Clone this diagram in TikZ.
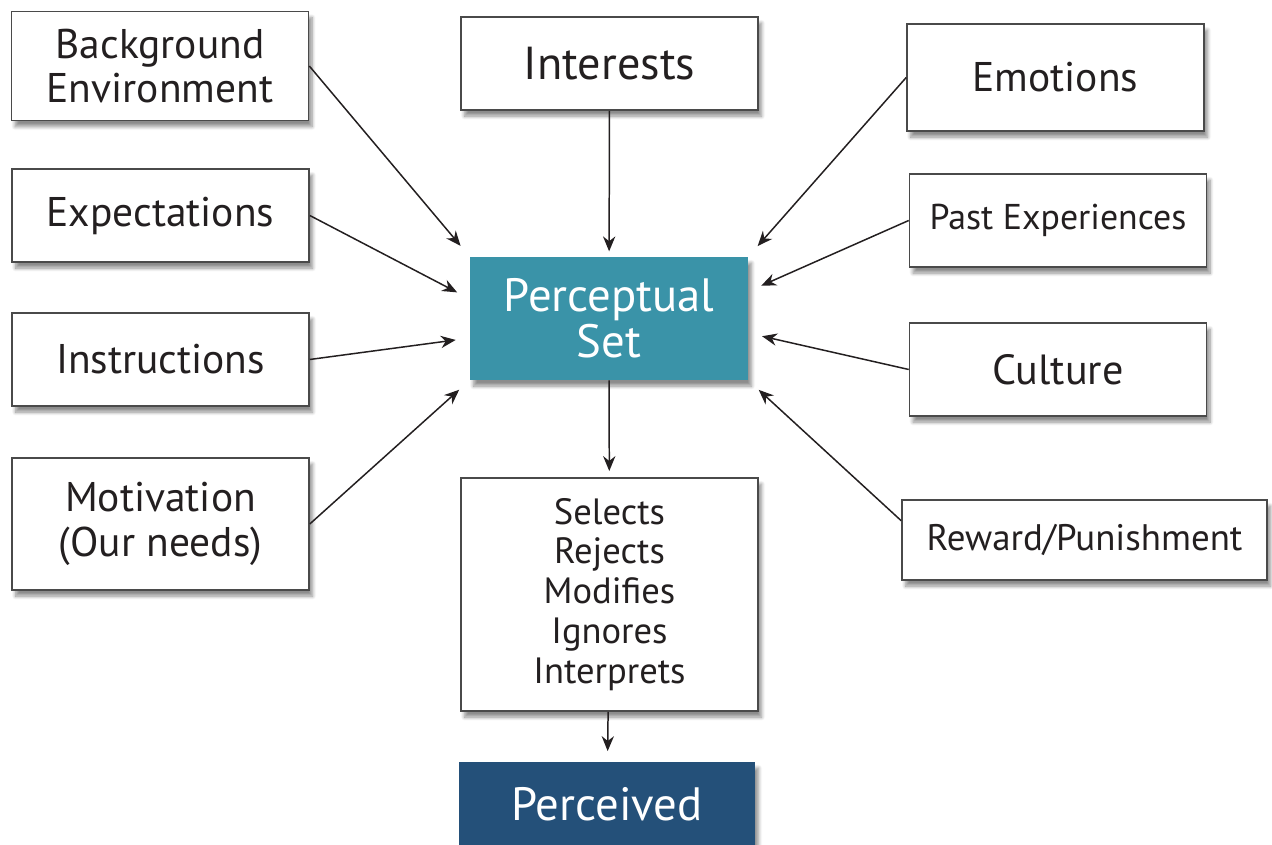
\documentclass[tikz,border=0pt]{standalone}
\usepackage{fontspec}
\setmainfont{PT Sans}
\usetikzlibrary{arrows.meta,shadows.blur}
\definecolor{ink}{HTML}{231F20}
\definecolor{frame}{HTML}{4A4A4A}
\definecolor{teal}{HTML}{3A93A8}
\definecolor{navy}{HTML}{245079}

\begin{document}
\begin{tikzpicture}[
  font=\fontsize{23.6}{24.8}\selectfont,
  >={Stealth[length=8.5pt,width=7pt]},
  factor/.style={draw=frame,line width=0.9pt,fill=white,text=ink,
    align=center,inner sep=0pt,minimum width=5.94cm,
    blur shadow={shadow xshift=2pt,shadow yshift=-3.5pt,
      shadow blur steps=8,shadow opacity=45}},
  core/.style={fill=#1,text=white,align=center,inner sep=0pt,
    font=\fontsize{26.6}{26}\selectfont,
    blur shadow={shadow xshift=2pt,shadow yshift=-3.5pt,
      shadow blur steps=8,shadow opacity=45}},
  link/.style={->,line width=0.85pt,draw=ink,shorten >=8pt}
]
  \clip (0,0) rectangle (25.44,16.9);

  % influences on the left
  \node[factor,minimum height=2.18cm] (bgenv) at (3.2,15.58)
    {Background\\Environment};
  \node[factor,minimum height=1.86cm] (expect) at (3.21,12.59)
    {Expectations};
  \node[factor,minimum height=1.86cm] (instr) at (3.21,9.71)
    {Instructions};
  \node[factor,minimum height=2.64cm,font=\fontsize{23.6}{25.5}\selectfont]
    (motiv) at (3.21,6.42) {Motivation\\(Our needs)};

  % top
  \node[factor,minimum height=1.86cm,font=\fontsize{26.3}{27}\selectfont]
    (interest) at (12.19,15.63) {Interests};

  % influences on the right
  \node[factor,minimum height=2.14cm] (emotion) at (21.11,15.35)
    {Emotions};
  \node[factor,minimum height=1.86cm,font=\fontsize{20.4}{22}\selectfont]
    (pastexp) at (21.16,12.49) {Past Experiences};
  \node[factor,minimum height=1.86cm,font=\fontsize{24}{25}\selectfont]
    (culture) at (21.16,9.51) {Culture};
  \node[factor,minimum width=7.3cm,minimum height=1.6cm,
    font=\fontsize{21}{22}\selectfont] (reward) at (21.69,6.10)
    {Reward/Punishment};

  % centre column
  \node[core=teal,minimum width=5.56cm,minimum height=2.46cm]
    (pset) at (12.18,10.53) {Perceptual\\Set};
  \node[factor,minimum height=4.66cm,font=\fontsize{20.8}{22.7}\selectfont]
    (process) at (12.19,5.01)
    {Selects\\Rejects\\Modifies\\Ignores\\Interprets};
  \node[core=navy,minimum width=5.92cm,minimum height=1.68cm]
    (perceived) at (12.14,0.82) {Perceived};

  \draw[link] (bgenv.east) -- (pset.north west);
  \draw[link] (expect.east) -- (pset.172);
  \draw[link] (instr.east) -- (pset.188);
  \draw[link] (motiv.east) -- (pset.south west);
  \draw[link,shorten >=3pt] (interest) -- (pset);
  \draw[link] (emotion.west) -- (pset.north east);
  \draw[link] (pastexp.west) -- (pset.11);
  \draw[link] (culture.west) -- (pset.354);
  \draw[link] (reward.174) -- (pset.south east);
  \draw[link,shorten >=3.5pt] (pset) -- (process);
  \draw[link,shorten >=6pt] (process) -- (perceived);
\end{tikzpicture}
\end{document}
